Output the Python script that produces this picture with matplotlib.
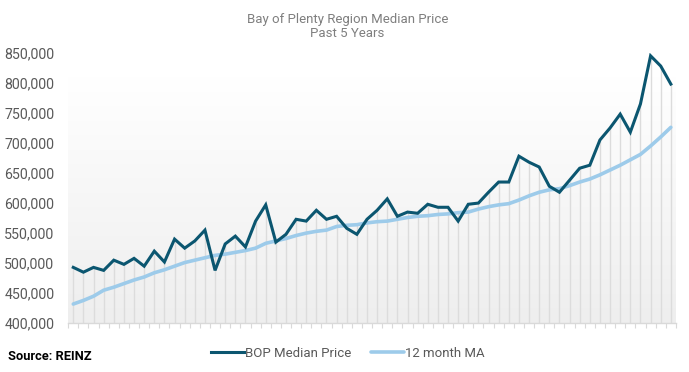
import numpy as np
import matplotlib
matplotlib.use("Agg")
import matplotlib.pyplot as plt
from matplotlib.colors import LinearSegmentedColormap
from matplotlib.ticker import FuncFormatter, FixedLocator

# === data (monthly, past 5 years) ===
bop_median = [493, 485, 493, 488, 505, 498, 508, 495, 520, 502,
              540, 525, 537, 555, 488, 532, 545, 527, 570, 597,
              535, 548, 573, 570, 588, 573, 578, 558, 548, 573,
              588, 607, 578, 585, 583, 598, 593, 593, 570, 598,
              600, 618, 635, 635, 678, 668, 660, 628, 618, 638,
              658, 663, 705, 725, 748, 718, 765, 845, 828, 798]
ma_12 = [432, 438, 445, 455, 460, 466, 472, 477, 484, 489,
         495, 501, 505, 509, 513, 515, 518, 521, 525, 533,
         537, 541, 546, 550, 553, 555, 561, 563, 564, 567,
         569, 570, 573, 576, 578, 579, 581, 582, 584, 585,
         590, 594, 597, 599, 605, 612, 618, 622, 624, 629,
         635, 640, 647, 655, 663, 672, 681, 695, 710, 726]
y_ticks = [400000, 450000, 500000, 550000, 600000, 650000, 700000, 750000, 800000, 850000]

bop = np.array(bop_median) * 1000
ma = np.array(ma_12) * 1000
x = np.arange(len(bop))

fig = plt.figure(figsize=(6.89, 3.72), dpi=100)
ax = fig.add_axes([0.099, 0.131, 0.882, 0.727])

# plot area gradient (white at top -> light grey at bottom)
cmap = LinearSegmentedColormap.from_list("bg", ["#eeeeee", "#ffffff"])
grad = np.linspace(0, 1, 256).reshape(-1, 1)
ax.imshow(grad, cmap=cmap, origin="lower", aspect="auto",
          extent=[-0.5, len(x) - 0.5, 400000, 808000], zorder=0)

# drop lines
ax.vlines(x, 400000, np.maximum(bop, ma), color="#dcdcdc", lw=1.0, zorder=1)

ax.plot(x, ma, color="#9dcbea", lw=2.6, solid_capstyle="round", zorder=3,
        label="12 month MA")
ax.plot(x, bop, color="#0b5670", lw=2.2, solid_joinstyle="miter", zorder=4,
        label="BOP Median Price")

ax.set_xlim(-0.5, len(x) - 0.5)
ax.set_ylim(400000, 850000)

for s in ["top", "right", "left"]:
    ax.spines[s].set_visible(False)
ax.spines["bottom"].set_color("#d9d9d9")
ax.spines["bottom"].set_linewidth(1.0)

ax.xaxis.set_major_locator(FixedLocator(np.arange(len(x) + 1) - 0.5))
ax.tick_params(axis="x", length=3.5, color="#d9d9d9", labelbottom=False)
ax.set_yticks(y_ticks)
ax.yaxis.set_major_formatter(FuncFormatter(lambda v, p: f"{int(v):,}"))
ax.tick_params(axis="y", length=0, pad=10, labelsize=10.2, labelcolor="#595959")
for lab in ax.get_yticklabels():
    lab.set_family("Roboto")

fig.text(0.504, 0.965, "Bay of Plenty Region Median Price\nPast 5 Years",
         ha="center", va="top", fontsize=9.5, color="#7f7f7f",
         family="Roboto", linespacing=1.1)

fig.text(0.012, 0.043, "Source: REINZ", ha="left", va="center",
         fontsize=9.3, fontweight="bold", color="black", family="Roboto")

handles, labels = ax.get_legend_handles_labels()
leg = fig.legend(handles[::-1], labels[::-1], loc="center",
                 bbox_to_anchor=(0.505, 0.051), ncol=2, frameon=False,
                 prop={"family": "Roboto", "size": 9.5}, labelcolor="#595959",
                 handlelength=2.5, handletextpad=0.1, columnspacing=1.5)

fig.savefig("out.png", dpi=100)
